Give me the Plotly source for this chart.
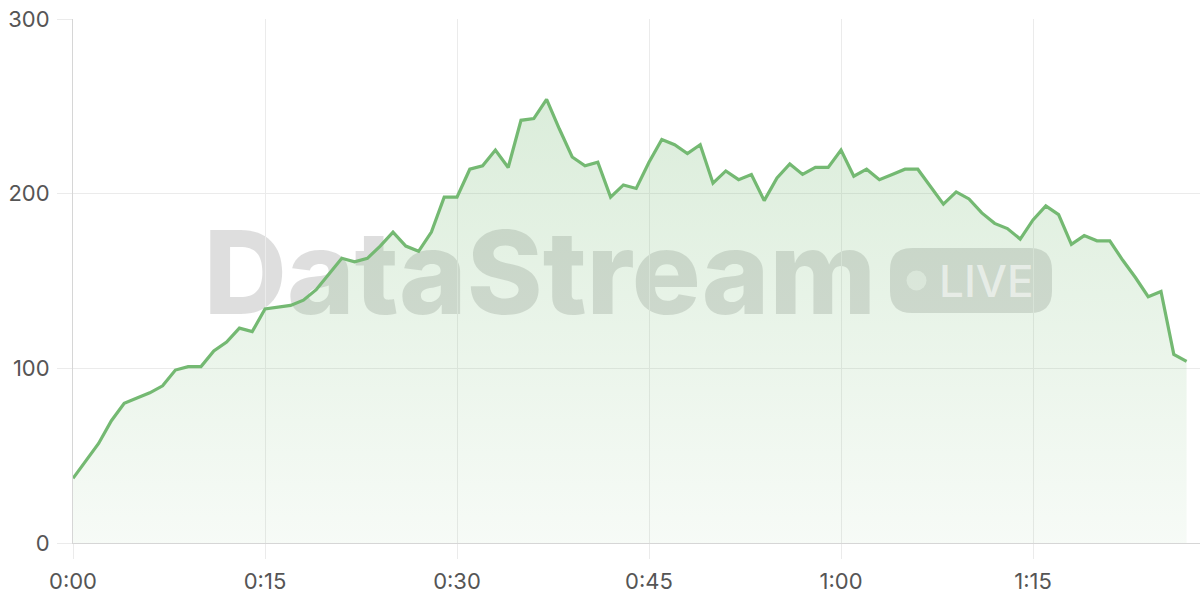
import plotly.graph_objects as go

# ---- data ----
minutes = list(range(0, 88))
values = [37, 47, 57, 70, 80, 83, 86, 90, 99, 101, 101, 110, 115, 123, 121, 134,
          135, 136, 139, 145, 154, 163, 161, 163, 170, 178, 170, 167, 178, 198,
          198, 214, 216, 225, 215, 242, 243, 254, 237, 221, 216, 218, 198, 205,
          203, 218, 231, 228, 223, 228, 206, 213, 208, 211, 196, 209, 217, 211,
          215, 215, 225, 210, 214, 208, 211, 214, 214, 204, 194, 201, 197, 189,
          183, 180, 174, 185, 193, 188, 171, 176, 173, 173, 162, 152, 141, 144,
          108, 104]
x_tickvals = [0, 15, 30, 45, 60, 75]
x_ticktext = ["0:00", "0:15", "0:30", "0:45", "1:00", "1:15"]
y_tickvals = [0, 100, 200, 300]
y_ticktext = ["0", "100", "200", "300"]

LINE = "#74b972"
GRID = "#ebebeb"
AXIS = "#d6d6d6"
FONT = "Inter"

plot_l, plot_r, plot_t, plot_b = 73, 1200, 19, 543
PW, PH = plot_r - plot_l, plot_b - plot_t


def px_x(p):
    return (p - plot_l) / PW


def px_y(p):
    return (plot_b - p) / PH


fig = go.Figure()
fig.add_trace(go.Scatter(
    x=minutes, y=values, mode="lines",
    line=dict(color=LINE, width=3.2),
    fill="tozeroy",
    fillgradient=dict(type="vertical", start=0, stop=255,
                      colorscale=[[0, "rgba(116,185,114,0.06)"],
                                  [1, "rgba(116,185,114,0.26)"]]),
    hoverinfo="skip",
))

# watermark (drawn below the data)
tcx, tcy = px_x(540), px_y(271.5) + 3 / PH
fig.add_shape(type="rect", xref="paper", yref="paper", layer="below",
              x0=tcx - 0.45, x1=tcx + 0.45, y0=tcy - 0.2, y1=tcy + 0.2,
              line=dict(width=0), fillcolor="rgba(0,0,0,0)",
              label=dict(text="DataStream", textposition="middle center",
                         font=dict(family=FONT, size=115, weight=800,
                                   color="rgba(0,0,0,0.13)")))

# LIVE badge
ax, ay = px_x(971), px_y(280.5)
w, h, r = 81, 32.5, 22
path = (f"M {-w + r},{-h} L {w - r},{-h} Q {w},{-h} {w},{-h + r} L {w},{h - r} "
        f"Q {w},{h} {w - r},{h} L {-w + r},{h} Q {-w},{h} {-w},{h - r} "
        f"L {-w},{-h + r} Q {-w},{-h} {-w + r},{-h} Z")
fig.add_shape(type="path", xref="paper", yref="paper", layer="below",
              xsizemode="pixel", ysizemode="pixel", xanchor=ax, yanchor=ay,
              path=path, line=dict(width=0), fillcolor="rgba(0,0,0,0.13)")
fig.add_shape(type="circle", xref="paper", yref="paper", layer="below",
              xsizemode="pixel", ysizemode="pixel", xanchor=ax, yanchor=ay,
              x0=-64.5, x1=-44.5, y0=-10, y1=10,
              line=dict(width=0), fillcolor="rgba(255,255,255,0.55)")
fig.add_annotation(xref="paper", yref="paper", x=px_x(986.5), y=px_y(281),
                   text="LIVE", showarrow=False, xanchor="center", yanchor="middle",
                   font=dict(family=FONT, size=44, weight=500,
                             color="rgba(255,255,255,0.55)"))

fig.update_layout(
    width=1200, height=600,
    margin=dict(l=plot_l, r=1200 - plot_r, t=plot_t, b=600 - plot_b, autoexpand=False),
    paper_bgcolor="white", plot_bgcolor="white",
    showlegend=False,
    font=dict(family=FONT, size=22, color="#555555"),
)
fig.update_xaxes(
    range=[0, PW / 12.8], tickvals=x_tickvals, ticktext=x_ticktext,
    showgrid=True, gridcolor=GRID, gridwidth=1,
    showline=True, linecolor=AXIS, linewidth=1,
    ticks="outside", ticklen=15, tickcolor=GRID, ticklabelstandoff=4,
    zeroline=False, automargin=False,
)
fig.update_yaxes(
    range=[0, 300], tickvals=y_tickvals, ticktext=y_ticktext,
    showgrid=True, gridcolor=GRID, gridwidth=1,
    showline=True, linecolor=AXIS, linewidth=1,
    ticks="outside", ticklen=15, tickcolor=GRID, ticklabelstandoff=3,
    zeroline=False, automargin=False,
)

fig.write_html("out.html", config={"displayModeBar": False},
               post_script="document.body.style.margin='0';document.body.style.padding='0';")
